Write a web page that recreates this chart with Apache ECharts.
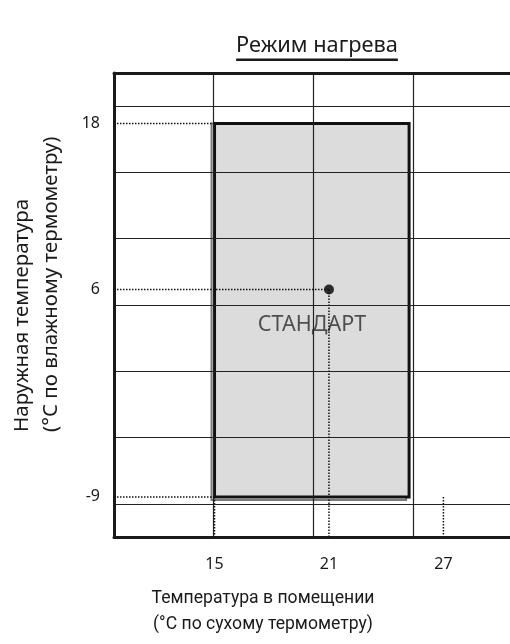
<!DOCTYPE html>
<html>
<head>
<meta charset="utf-8">
<script src="https://cdn.jsdelivr.net/npm/echarts@6/dist/echarts.min.js"></script>
<style>
  html, body { margin: 0; padding: 0; background: #ffffff; }
  #chart { width: 510px; height: 644px; }
</style>
</head>
<body>
<div id="chart"></div>
<script>
// Texts
const titleText = 'Режим нагрева';
const xAxisTitle = 'Температура в помещении\n(°C по сухому термометру)';
const yAxisTitle = 'Наружная температура\n(°C по влажному термометру)';
const modeLabel = 'СТАНДАРТ';

// Tick labels on the two axes
const xTickValues = [15, 21, 27];
const yTickValues = [18, 6, -9];

// Operating zone: indoor dry-bulb range and outdoor wet-bulb range
const zoneIndoor = [15, 25.2];
const zoneOutdoor = [-9, 18];

// Rated (standard) condition
const ratedPoint = [21, 6];

// Axis extents
const X_MIN = 9.73, X_MAX = 30.49;
const Y_MIN = -11.9, Y_MAX = 21.66;

const FONT = 'Noto Sans';
const INK = '#1a1a1a';

const chart = echarts.init(document.getElementById('chart'), null, { renderer: 'canvas' });

// dotted guides: from the axes to the zone corners and to the rated point
const guides = [
  [[X_MIN, zoneOutdoor[1]], [zoneIndoor[0], zoneOutdoor[1]]],
  [[X_MIN, ratedPoint[1]], [ratedPoint[0], ratedPoint[1]]],
  [[X_MIN, zoneOutdoor[0]], [zoneIndoor[0], zoneOutdoor[0]]],
  [[zoneIndoor[0], zoneOutdoor[0]], [zoneIndoor[0], Y_MIN]],
  [[ratedPoint[0], ratedPoint[1]], [ratedPoint[0], Y_MIN]],
  [[xTickValues[2], zoneOutdoor[0]], [xTickValues[2], Y_MIN]]
];

function measure(text, font) {
  const ctx = document.createElement('canvas').getContext('2d');
  ctx.font = font;
  return ctx.measureText(text).width;
}
const titleFont = '21.8px "' + FONT + '"';
const titleW = measure(titleText, titleFont);
const titleCX = 317;

const option = {
  animation: false,
  backgroundColor: '#ffffff',
  grid: { left: 114, top: 73, right: 0, bottom: 107, containLabel: false },
  xAxis: [
    {
      type: 'value', min: X_MIN, max: X_MAX, position: 'bottom',
      axisLine: { show: true, onZero: false, lineStyle: { color: INK, width: 3 } },
      axisTick: { show: false, customValues: xTickValues },
      splitLine: { show: false },
      axisLabel: { customValues: xTickValues, margin: 19, color: INK, fontFamily: FONT, fontSize: 16 }
    },
    {
      // cell lines of the diagram
      type: 'value', min: 0, max: 3.973, position: 'top',
      axisLine: { show: true, onZero: false, lineStyle: { color: INK, width: 3 } },
      axisTick: { show: false, customValues: [1, 2, 3] },
      axisLabel: { show: false },
      splitLine: { show: true, lineStyle: { color: '#222', width: 1.2 } }
    }
  ],
  yAxis: [
    {
      type: 'value', min: Y_MIN, max: Y_MAX, position: 'left',
      axisLine: { show: true, onZero: false, lineStyle: { color: INK, width: 3 } },
      axisTick: { show: false, customValues: yTickValues },
      splitLine: { show: false },
      axisLabel: { customValues: yTickValues, margin: 14, color: INK, fontFamily: FONT, fontSize: 16 }
    },
    {
      type: 'value', min: 0, max: 7, position: 'right',
      axisLine: { show: false },
      axisTick: { show: false, customValues: [0.5, 1.5, 2.5, 3.5, 4.5, 5.5, 6.5] },
      axisLabel: { show: false },
      splitLine: { show: true, lineStyle: { color: '#222', width: 1.2 } }
    }
  ],
  graphic: [
    {
      type: 'text', x: titleCX, y: 35,
      style: { text: titleText, font: titleFont, fill: INK, textAlign: 'center', textVerticalAlign: 'top' }
    },
    {
      type: 'rect', shape: { x: titleCX - titleW / 2, y: 58.5, width: titleW, height: 2.5 },
      style: { fill: INK }
    },
    {
      type: 'text', x: 263, y: 586,
      style: { text: xAxisTitle, font: '17.6px Roboto', fill: INK, textAlign: 'center', textVerticalAlign: 'top', lineHeight: 26 }
    },
    {
      type: 'text', x: 8, y: 432, rotation: Math.PI / 2,
      style: { text: yAxisTitle, font: '20.5px "' + FONT + '"', fill: INK, textAlign: 'left', textVerticalAlign: 'top', lineHeight: 29 }
    }
  ],
  series: [
    {
      type: 'custom', name: 'zone', z: -1,
      xAxisIndex: 0, yAxisIndex: 0,
      data: [[zoneIndoor[0], zoneIndoor[1], zoneOutdoor[0], zoneOutdoor[1]]],
      renderItem: function (params, api) {
        const tl = api.coord([api.value(0), api.value(3)]);
        const br = api.coord([api.value(1), api.value(2)]);
        const w = br[0] - tl[0], h = br[1] - tl[1];
        return {
          type: 'group',
          children: [
            { type: 'rect', shape: { x: tl[0] - 3, y: tl[1], width: w, height: h + 3 },
              style: { fill: 'none', stroke: '#7a7a7a', lineWidth: 2 } },
            { type: 'rect', shape: { x: tl[0], y: tl[1], width: w, height: h },
              style: { fill: '#dcdcdc', stroke: '#111', lineWidth: 3 } }
          ]
        };
      }
    },
    ...guides.map(function (g) {
      return {
        type: 'line', xAxisIndex: 0, yAxisIndex: 0, data: g,
        symbol: 'none', silent: true,
        lineStyle: { color: '#111', width: 1.5, type: [1.5, 1.5] }
      };
    }),
    {
      type: 'scatter', xAxisIndex: 0, yAxisIndex: 0,
      data: [ratedPoint], symbolSize: 10,
      itemStyle: { color: '#000' },
      label: {
        show: true, formatter: modeLabel, position: 'bottom', offset: [-17, 14],
        color: '#2a2a2a', fontFamily: FONT, fontSize: 21.5
      }
    }
  ]
};

chart.setOption(option);
</script>
</body>
</html>
